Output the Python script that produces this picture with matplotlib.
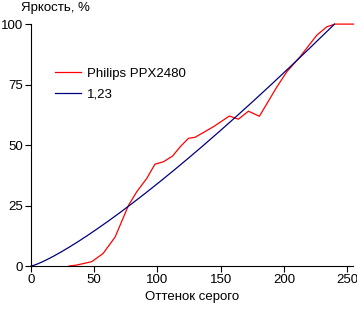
import numpy as np
import matplotlib
matplotlib.use("Agg")
import matplotlib.pyplot as plt

plt.rcParams['font.family'] = ['Liberation Sans', 'DejaVu Sans']

# measured curve (gray level -> brightness, %)
gray = [30, 36, 48, 57, 66.5, 77, 83.6, 91.5, 98, 104.7, 112, 118, 124.5, 129.7,
        144.3, 156.9, 164, 172, 180.6, 194.4, 202.3, 212.8, 226, 234, 240.5, 255]
bright = [0, 0.4, 1.8, 5.2, 12, 25, 30.7, 36.2, 42.1, 43.1, 45.5, 49.3, 52.8, 53.2,
          57.6, 62, 60.7, 64, 61.9, 74, 80.3, 86.5, 95.4, 98.9, 100, 100]

gamma = 1.23
ref_x = np.arange(0, 241)

fig = plt.figure(figsize=(3.57, 3.09), dpi=100)
ax = fig.add_axes([0.087, 0.139, 0.903, 0.783])

ax.plot(gray, bright, color='#ff0000', lw=0.9, label='Philips PPX2480', clip_on=False)
ax.plot(ref_x, 100 * (ref_x / 240) ** gamma, color='#000080', lw=0.9, label='1,23', clip_on=False)

ax.set_xlim(0, 255)
ax.set_ylim(0, 100)
ax.set_xticks([0, 50, 100, 150, 200, 250])
ax.set_yticks([0, 25, 50, 75, 100])
ax.spines['top'].set_visible(False)
ax.spines['right'].set_visible(False)
ax.tick_params(direction='out', length=4, width=0.8, labelsize=9.5, pad=2)

fig.text(0.058, 0.995, 'Яркость, %', fontsize=9.5, va='top', ha='left')
ax.set_xlabel('Оттенок серого', fontsize=9.5, labelpad=3)

ax.legend(loc='upper left', bbox_to_anchor=(0.074, 0.82), frameon=False, fontsize=9.5,
          handlelength=2.0, handletextpad=0.4, labelspacing=0.65,
          borderpad=0, borderaxespad=0)

fig.savefig('out.png', dpi=100)
